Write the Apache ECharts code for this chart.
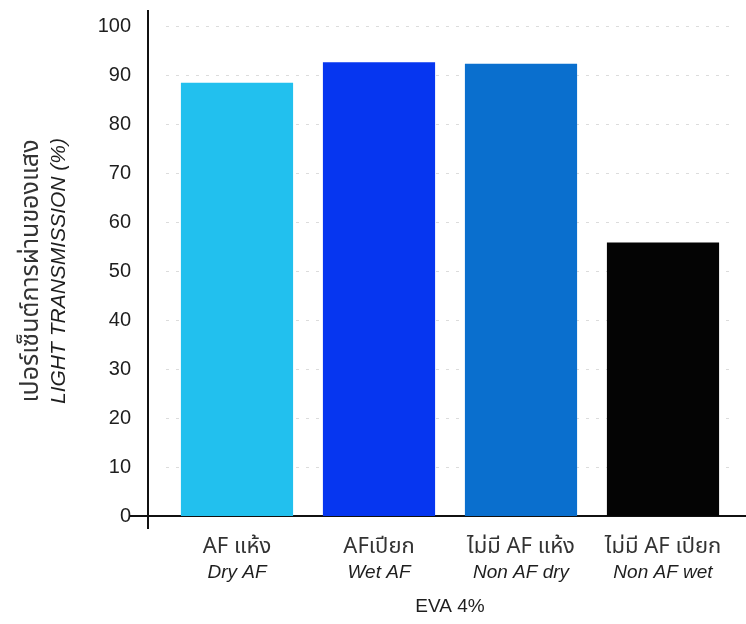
<!DOCTYPE html>
<html>
<head>
<meta charset="utf-8">
<script src="https://cdn.jsdelivr.net/npm/echarts@6/dist/echarts.min.js"></script>
<style>
  html, body { margin: 0; padding: 0; background: #fff; }
  #chart { width: 746px; height: 624px; }
</style>
</head>
<body>
<div id="chart"></div>
<script>
// Light transmission of EVA 4% film, with and without anti-fog (AF) additive
const categoriesThai = ['AF แห้ง', 'AFเปียก', 'ไม่มี AF แห้ง', 'ไม่มี AF เปียก'];
const categoriesEng = ['Dry AF', 'Wet AF', 'Non AF dry', 'Non AF wet'];
const transmission = [88.4, 92.6, 92.3, 55.8];
const barColors = ['#22c0ee', '#0636f0', '#0a6fce', '#040404'];
const yTicks = [0, 10, 20, 30, 40, 50, 60, 70, 80, 90, 100];

const SANS = '"Liberation Sans", Arial, Helvetica, sans-serif';
const THAI = '"Noto Sans Thai", "Noto Sans", "DejaVu Sans", sans-serif';
const TEXT = '#1e1e1e';
const TEXT_TH = '#333333';

const gridLeft = 166, gridRight = 12, gridTop = 26, gridBottom = 108;
const axisShift = 18;

const chart = echarts.init(document.getElementById('chart'), null, { renderer: 'canvas' });

chart.setOption({
  animation: false,
  backgroundColor: '#ffffff',
  grid: { left: gridLeft, right: gridRight, top: gridTop, bottom: gridBottom, containLabel: false },
  xAxis: {
    type: 'category',
    data: categoriesThai.map((t, i) => t + '\n' + categoriesEng[i]),
    axisLine: { show: true, lineStyle: { color: '#111', width: 2 } },
    axisTick: { show: false },
    axisLabel: {
      interval: 0,
      margin: 21,
      formatter: function (v) {
        const parts = v.split('\n');
        return '{th|' + parts[0] + '}\n{en|' + parts[1] + '}';
      },
      rich: {
        th: { fontFamily: THAI, fontSize: 22, color: TEXT_TH, lineHeight: 24 },
        en: { fontFamily: SANS, fontStyle: 'italic', fontSize: 19, color: TEXT, lineHeight: 24 }
      }
    },
    name: 'EVA 4%',
    nameLocation: 'middle',
    nameGap: 81,
    nameTextStyle: { fontFamily: SANS, fontSize: 19, color: TEXT }
  },
  yAxis: {
    type: 'value',
    min: 0,
    max: 100,
    interval: 10,
    offset: axisShift,
    axisLine: { show: true, onZero: false, lineStyle: { color: '#111', width: 2 } },
    axisTick: { show: false },
    axisLabel: {
      margin: 17,
      fontFamily: SANS,
      fontSize: 20,
      color: TEXT,
      formatter: v => (yTicks.indexOf(v) >= 0 ? String(v) : '')
    },
    splitLine: { show: true, lineStyle: { color: '#dcdcdc', type: [3, 7], width: 1 } },
    name: '{th|เปอร์เซ็นต์การผ่านของแสง}\n{en|LIGHT TRANSMISSION (%)}',
    nameLocation: 'middle',
    nameRotate: 90,
    nameGap: 76,
    nameTextStyle: {
      rich: {
        th: { fontFamily: THAI, fontSize: 25, color: TEXT_TH, lineHeight: 26 },
        en: { fontFamily: SANS, fontStyle: 'italic', fontSize: 21, color: TEXT, lineHeight: 26 }
      }
    }
  },
  series: [{
    type: 'bar',
    barWidth: '79%',
    data: transmission.map((v, i) => ({ value: v, itemStyle: { color: barColors[i] } }))
  }]
});

// Axis overhangs: the horizontal axis runs past the vertical one on the left,
// and the vertical axis pokes a little above the plot and below the baseline.
const y0 = chart.convertToPixel({ yAxisIndex: 0 }, 0);
const y100 = chart.convertToPixel({ yAxisIndex: 0 }, 100);
const axisX = gridLeft - axisShift;
const W = chart.getWidth();
chart.setOption({
  graphic: [
    { type: 'line', shape: { x1: axisX - 18, y1: y0, x2: gridLeft, y2: y0 }, style: { stroke: '#111', lineWidth: 2 }, z: 10 },
    { type: 'line', shape: { x1: W - gridRight, y1: y0, x2: W, y2: y0 }, style: { stroke: '#111', lineWidth: 2 }, z: 10 },
    { type: 'line', shape: { x1: axisX, y1: y100 - 16, x2: axisX, y2: y0 + 13 }, style: { stroke: '#111', lineWidth: 2 }, z: 10 }
  ]
});
</script>
</body>
</html>
